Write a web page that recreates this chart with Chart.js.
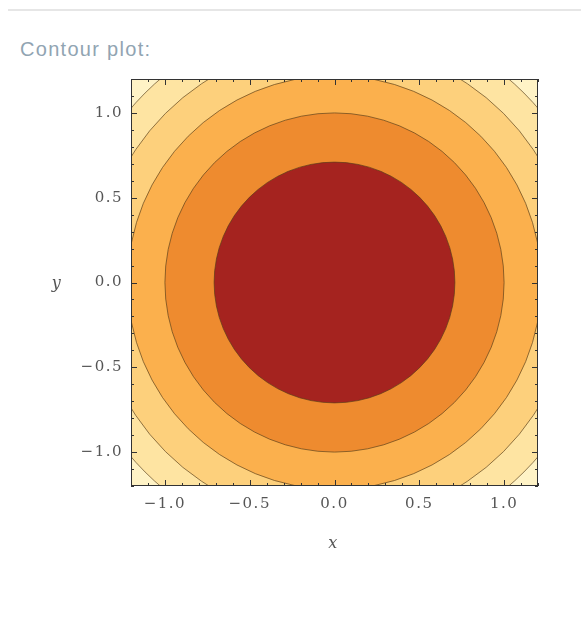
<!DOCTYPE html>
<html>
<head>
<meta charset="utf-8">
<script src="https://cdn.jsdelivr.net/npm/chart.js@4.4.0/dist/chart.umd.min.js"></script>
<style>
    body { margin: 0; background: #ffffff; width: 581px; height: 619px; overflow: hidden; position: relative; }
    #rule { position: absolute; left: 8px; right: 0; top: 9px; height: 2px; background: #e6e6e6; }
    #title { position: absolute; left: 20px; top: 38px; font-family: "Liberation Sans", Arial, sans-serif; font-size: 20px; letter-spacing: 1.3px; color: #91a4b2; }
    #chart { position: absolute; left: 0; top: 0; }
</style>
</head>
<body>
<div id="rule"></div>
<div id="title">Contour plot:</div>
<canvas id="chart" width="581" height="619"></canvas>
<script>
// contour radii, outermost first
const contourRadii = [1.58, 1.41, 1.22, 1.0, 0.71];
const bandColors = ['#fee4a2', '#fdd07c', '#fbb04d', '#ee8b2f', '#a5231f'];
const cornerColor = '#fff3c6';
const contourCenter = { x: 0, y: 0 };

const axisMin = -1.2;
const axisMax = 1.2;
const tickValues = [-1.0, -0.5, 0.0, 0.5, 1.0];
const tickLabels = ['\u22121.0', '\u22120.5', '0.0', '0.5', '1.0'];

const labelFont = { family: '"DejaVu Serif", "Liberation Serif", serif', size: 15 };
const labelColor = '#555555';

function labelFor(value) {
    const i = tickValues.findIndex(v => Math.abs(v - value) < 1e-6);
    return i >= 0 ? tickLabels[i] : '';
}

// filled contour bands, drawn through the x / y scales
const contourPlugin = {
    id: 'contours',
    beforeDatasetsDraw(chart) {
        const { ctx, chartArea: a, scales } = chart;
        const cx = scales.x.getPixelForValue(contourCenter.x);
        const cy = scales.y.getPixelForValue(contourCenter.y);
        ctx.save();
        ctx.beginPath();
        ctx.rect(a.left, a.top, a.right - a.left, a.bottom - a.top);
        ctx.clip();
        ctx.fillStyle = cornerColor;
        ctx.fillRect(a.left, a.top, a.right - a.left, a.bottom - a.top);
        ctx.lineWidth = 1;
        ctx.strokeStyle = 'rgba(85, 60, 25, 0.65)';
        contourRadii.forEach((r, i) => {
            const rx = Math.abs(scales.x.getPixelForValue(contourCenter.x + r) - cx);
            const ry = Math.abs(scales.y.getPixelForValue(contourCenter.y + r) - cy);
            ctx.beginPath();
            ctx.ellipse(cx, cy, rx, ry, 0, 0, Math.PI * 2);
            ctx.fillStyle = bandColors[i];
            ctx.fill();
            ctx.stroke();
        });
        ctx.restore();
    }
};

// inward frame ticks and the x / y labels
const framePlugin = {
    id: 'frame',
    beforeDraw(chart) {
        chart.ctx.letterSpacing = '1.5px';
    },
    afterDatasetsDraw(chart) {
        const { ctx, chartArea: a, scales } = chart;
        ctx.save();
        ctx.strokeStyle = '#333333';
        ctx.lineWidth = 1;
        ctx.strokeRect(a.left + 0.5, a.top + 0.5, a.right - a.left - 1, a.bottom - a.top - 1);

        ctx.beginPath();
        scales.x.ticks.forEach(t => {
            const px = Math.round(scales.x.getPixelForValue(t.value)) + 0.5;
            const len = labelFor(t.value) ? 6 : 3;
            ctx.moveTo(px, a.bottom); ctx.lineTo(px, a.bottom - len);
            ctx.moveTo(px, a.top); ctx.lineTo(px, a.top + len);
        });
        scales.y.ticks.forEach(t => {
            const py = Math.round(scales.y.getPixelForValue(t.value)) + 0.5;
            const len = labelFor(t.value) ? 6 : 3;
            ctx.moveTo(a.left, py); ctx.lineTo(a.left + len, py);
            ctx.moveTo(a.right, py); ctx.lineTo(a.right - len, py);
        });
        ctx.stroke();

        ctx.fillStyle = labelColor;
        ctx.font = 'italic 16px "DejaVu Serif", "Liberation Serif", serif';
        ctx.textAlign = 'center';
        ctx.textBaseline = 'middle';
        ctx.fillText('x', (a.left + a.right) / 2 - 1, a.bottom + 58);
        ctx.fillText('y', a.left - 74, (a.top + a.bottom) / 2 + 1);
        ctx.restore();
    }
};

new Chart(document.getElementById('chart'), {
    type: 'scatter',
    data: { datasets: [{ data: [] }] },
    options: {
        responsive: false,
        animation: false,
        events: [],
        layout: { padding: { left: 0, right: 43, top: 79, bottom: 0 } },
        plugins: {
            legend: { display: false },
            tooltip: { enabled: false }
        },
        scales: {
            x: {
                type: 'linear',
                min: axisMin,
                max: axisMax,
                grid: { display: false, drawTicks: false },
                border: { display: false },
                ticks: {
                    stepSize: 0.1,
                    autoSkip: false,
                    maxRotation: 0,
                    padding: 9,
                    font: labelFont,
                    color: labelColor,
                    callback: v => labelFor(v)
                },
                afterFit: s => { s.height = 133; }
            },
            y: {
                type: 'linear',
                min: axisMin,
                max: axisMax,
                grid: { display: false, drawTicks: false },
                border: { display: false },
                ticks: {
                    stepSize: 0.1,
                    autoSkip: false,
                    padding: 8,
                    font: labelFont,
                    color: labelColor,
                    callback: v => labelFor(v)
                },
                afterFit: s => { s.width = 131; }
            }
        }
    },
    plugins: [contourPlugin, framePlugin]
});
</script>
</body>
</html>
